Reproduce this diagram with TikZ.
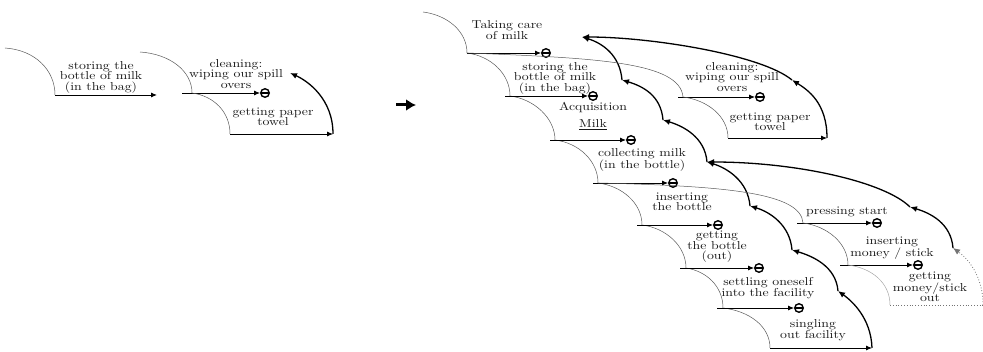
\documentclass[tikz,border=0pt]{standalone}
\usepackage{fontspec}
\usepackage{tikz}
\usetikzlibrary{arrows.meta}
\newfontfamily\stepfont{lmroman10-regular.otf}[FakeStretch=1.2]

\begin{document}
\begin{tikzpicture}[x=1pt,y=-1pt,thick]
          \tikzstyle{every node}=[font=\stepfont\fontsize{11.5}{10.5}\selectfont,text=black!90,align=center,inner sep=0pt]
          \tikzstyle{flowarc}=[draw=black!65,line width=.5pt]
          \tikzstyle{flowline}=[draw=black,line width=.9pt,-{Latex[length=6pt,width=5pt]}]
          \tikzstyle{backarc}=[draw=black,line width=1.3pt,-{Latex[length=7pt,width=6pt]}]
          \tikzstyle{halt}=[circle,draw,line width=1.4pt,minimum size=8.5pt,
            path picture={\draw[line width=1.4pt] (path picture bounding box.west) -- (path picture bounding box.east);}]
          \tikzstyle{faint}=[draw=black!35,line width=.5pt]
          \tikzstyle{openline}=[draw=black!55,line width=.8pt,dotted]
          \useasboundingbox (0,0) rectangle (983,352);
          %
          % left: before
          \coordinate (s1) at (5,48);
          \coordinate (j1) at (55,95);
          \coordinate (e1) at (157,95);
          \coordinate (s2) at (140,52);
          \coordinate (j2) at (192,93);
          \coordinate (l2) at (182,93);
          \node [halt] (h2) at (265,93) {};
          \coordinate (j3) at (230,134);
          \coordinate (e3) at (333,134);
          \coordinate (k2) at (290,73);
          \node (t1) at (101,77) {storing the\\bottle of milk\\(in the bag)};
          \node (t2) at (236,74) {cleaning:\\wiping our spill\\overs};
          \node (t3) at (273,117) {getting paper\\towel};
          %
          \draw [flowarc] (s1) .. controls +(30,2) and +(0,-25) .. (j1);
          \draw [flowline] (j1) -- (e1);
          \draw [flowarc] (s2) .. controls +(30,2) and +(0,-22) .. (j2);
          \draw [flowline] (l2) -- (h2.west);
          \draw [flowarc] (j2) .. controls +(22,3) and +(0,-22) .. (j3);
          \draw [flowline] (j3) -- (e3);
          \draw [backarc] (e3) .. controls +(0,-35) and +(18,8) .. (k2);
          %
          % the big arrow
          \coordinate (bigA) at (396,105);
          \coordinate (bigB) at (416,105);
          \draw [line width=3pt,-{Latex[length=10pt,width=12pt]}] (bigA) -- (bigB);
          %
          % right: after
          \coordinate (sA) at (423,12);
          \coordinate (jA) at (467,53);
          \coordinate (jB) at (510,96);
          \coordinate (lB) at (505,96);
          \coordinate (jC) at (555,140);
          \coordinate (lC) at (550,140);
          \coordinate (jD) at (598,183);
          \coordinate (lD) at (593,183);
          \coordinate (jE) at (642,225);
          \coordinate (lE) at (637,225);
          \coordinate (jF) at (686,268);
          \coordinate (lF) at (680,268);
          \coordinate (jG) at (723,308);
          \coordinate (lG) at (717,308);
          \coordinate (jH) at (770,348);
          \coordinate (eH) at (872,348);
          \node [halt] (hA) at (546,53)  {};
          \node [halt] (hB) at (593,96)  {};
          \node [halt] (hC) at (631,140) {};
          \node [halt] (hD) at (673,183) {};
          \node [halt] (hE) at (718,225) {};
          \node [halt] (hF) at (759,268) {};
          \node [halt] (hG) at (799,308) {};
          \node (tA) at (507,30)  {Taking care\\of milk};
          \node (tB) at (555,78)  {storing the\\bottle of milk\\(in the bag)};
          \node (tC) at (593,116) {Acquisition\\[6pt]\underline{Milk}};
          \node (tD) at (642,160) {collecting milk\\(in the bottle)};
          \node (tE) at (682,202) {inserting\\the bottle};
          \node (tF) at (717,247) {getting\\the bottle\\(out)};
          \node (tG) at (768,288) {settling oneself\\into the facility};
          \node (tH) at (813,330) {singling\\out facility};
          %
          \draw [flowarc] (sA) .. controls +(24,3) and +(0,-22) .. (jA);
          \draw [flowarc] (jA) .. controls +(24,3) and +(0,-22) .. (jB);
          \draw [flowarc] (jB) .. controls +(24,3) and +(0,-22) .. (jC);
          \draw [flowarc] (jC) .. controls +(24,3) and +(0,-22) .. (jD);
          \draw [flowarc] (jD) .. controls +(24,3) and +(0,-22) .. (jE);
          \draw [flowarc] (jE) .. controls +(24,3) and +(0,-22) .. (jF);
          \draw [flowarc] (jF) .. controls +(20,3) and +(0,-22) .. (jG);
          \draw [flowarc] (jG) .. controls +(26,3) and +(0,-22) .. (jH);
          \draw [flowline] (jA) -- (hA.west);
          \draw [flowline] (lB) -- (hB.west);
          \draw [flowline] (lC) -- (hC.west);
          \draw [flowline] (lD) -- (hD.west);
          \draw [flowline] (lE) -- (hE.west);
          \draw [flowline] (lF) -- (hF.west);
          \draw [flowline] (lG) -- (hG.west);
          \draw [flowline] (jH) -- (eH);
          %
          % way back
          \coordinate (J1) at (582,37);
          \coordinate (J2) at (622,80);
          \coordinate (J3) at (663,120);
          \coordinate (J4) at (707,162);
          \coordinate (J5) at (750,206);
          \coordinate (J6) at (792,250);
          \coordinate (J7) at (838,291);
          \draw [backarc] (eH) .. controls +(-1,-30) and +(14,10) .. (J7);
          \draw [backarc] (J7) .. controls +(-2,-25) and +(20,6) .. (J6);
          \draw [backarc] (J6) .. controls +(-2,-25) and +(20,6) .. (J5);
          \draw [backarc] (J5) .. controls +(-2,-25) and +(20,6) .. (J4);
          \draw [backarc] (J4) .. controls +(-2,-25) and +(20,6) .. (J3);
          \draw [backarc] (J3) .. controls +(-2,-25) and +(20,6) .. (J2);
          \draw [backarc] (J2) .. controls +(-2,-25) and +(20,6) .. (J1);
          %
          % cleaning
          \coordinate (jK) at (683,97);
          \coordinate (lK) at (678,97);
          \coordinate (jT) at (728,138);
          \coordinate (eT) at (827,138);
          \coordinate (K) at (792,80);
          \node [halt] (hK) at (760,97) {};
          \node (tK) at (732,77)  {cleaning:\\wiping our spill\\overs};
          \node (tT) at (770,122) {getting paper\\towel};
          \draw [flowarc] (jA) .. controls +(130,5) and +(-3,-35) .. (jK);
          \draw [flowline] (lK) -- (hK.west);
          \draw [flowarc] (jK) .. controls +(24,3) and +(0,-22) .. (jT);
          \draw [flowline] (jT) -- (eT);
          \draw [backarc] (eT) .. controls +(0,-35) and +(16,10) .. (K);
          \draw [backarc] (K) .. controls +(-30,-25) and +(70,0) .. (J1);
          %
          % pressing start
          \coordinate (jP) at (803,223);
          \coordinate (lP) at (797,223);
          \coordinate (jM) at (848,265);
          \coordinate (lM) at (840,265);
          \coordinate (jO) at (890,305);
          \coordinate (eO) at (983,305);
          \coordinate (Q1) at (953,248);
          \coordinate (Q2) at (910,207);
          \node [halt] (hP) at (877,223) {};
          \node [halt] (hM) at (918,265) {};
          \node (tP) at (847,212) {pressing start};
          \node (tM) at (892,248) {inserting\\money / stick};
          \node (tO) at (930,287) {getting\\money/stick\\out};
          \draw [flowarc] (jD) .. controls +(130,3) and +(-2,-30) .. (jP);
          \draw [flowline] (lP) -- (hP.west);
          \draw [flowarc] (jP) .. controls +(24,3) and +(0,-22) .. (jM);
          \draw [flowline] (lM) -- (hM.west);
          \draw [faint] (jM) .. controls +(24,3) and +(0,-22) .. (jO);
          \draw [openline] (jO) -- (eO);
          \draw [openline,-{Latex[length=7pt,width=6pt]}] (eO) .. controls +(0,-30) and +(14,10) .. (Q1);
          \draw [backarc] (Q1) .. controls +(-2,-25) and +(20,6) .. (Q2);
          \draw [backarc] (Q2) .. controls +(-25,-25) and +(90,0) .. (J4);
        \end{tikzpicture}
\end{document}
